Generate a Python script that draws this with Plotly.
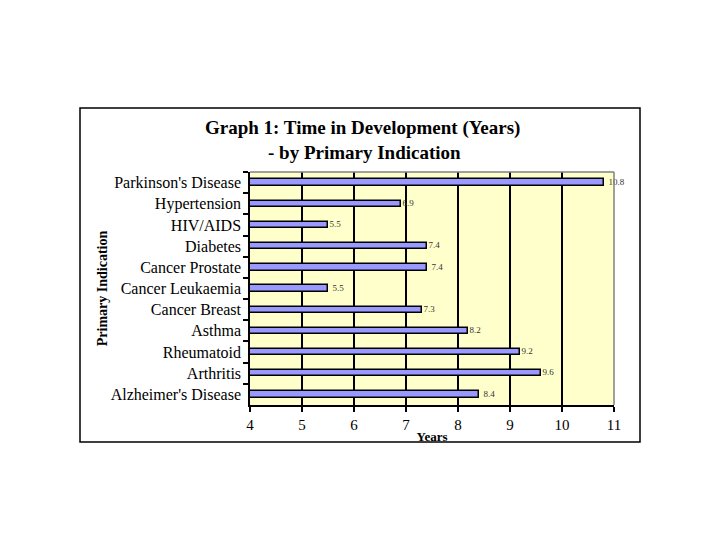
import plotly.graph_objects as go

categories = ["Parkinson's Disease", "Hypertension", "HIV/AIDS", "Diabetes",
              "Cancer Prostate", "Cancer Leukaemia", "Cancer Breast", "Asthma",
              "Rheumatoid", "Arthritis", "Alzheimer's Disease"]
years = [10.8, 6.9, 5.5, 7.4, 7.4, 5.5, 7.3, 8.2, 9.2, 9.6, 8.4]
x_ticks = [4, 5, 6, 7, 8, 9, 10, 11]

serif = "Liberation Serif, Times New Roman, serif"

# page body has an 8px margin; compensate
OFF = 8
FW, FH = 720 - OFF, 540 - OFF

fig = go.Figure()
fig.add_trace(go.Bar(
    y=categories, x=years, orientation="h", width=0.3,
    marker=dict(color="#9999FF", line=dict(color="black", width=1.5)),
    text=[f"\u00a0{v:.1f}" for v in years], textposition="outside", constraintext="none",
    textfont=dict(family=serif, size=9, color="#333333"), cliponaxis=False,
))

L, R, T, B = 250 - OFF, 614 - OFF, 172 - OFF, 405 - OFF
W, H = R - L, B - T

fig.update_layout(
    width=FW, height=FH,
    margin=dict(l=L, r=FW - R, t=T, b=FH - B),
    paper_bgcolor="white", plot_bgcolor="#FFFFCC",
    showlegend=False, bargap=0,
    font=dict(family=serif, color="black"),
    xaxis=dict(range=[4, 11], tickvals=x_ticks, showgrid=True, gridcolor="black",
               gridwidth=1.5, showline=True, linecolor="black", linewidth=1.5,
               ticks="outside", ticklen=5, tickcolor="black", tickwidth=1.5,
               tickfont=dict(size=15), zeroline=False,
               title=dict(text="<b>Years</b>", font=dict(size=13), standoff=0)),
    yaxis=dict(categoryorder="array", categoryarray=categories, autorange="reversed",
               showline=True, linecolor="black", linewidth=1.5, ticks="outside",
               ticklen=5, tickcolor="black", tickwidth=1.5, tickson="boundaries",
               tickfont=dict(size=16), showgrid=False, ticklabelstandoff=4,
               title=dict(text="<b>Primary Indication</b>", font=dict(size=14), standoff=0)),
)

# grey top/right border of the plot area
fig.add_shape(type="line", xref="paper", yref="paper", x0=0, x1=1, y0=1, y1=1,
              line=dict(color="#808080", width=1.5))
fig.add_shape(type="line", xref="paper", yref="paper", x0=1, x1=1, y0=0, y1=1,
              line=dict(color="#808080", width=1.5))
# outer chart border
fig.add_shape(type="rect", xref="paper", yref="paper",
              x0=(80 - OFF - L) / W, x1=(640 - OFF - L) / W,
              y0=(B - (442 - OFF)) / H, y1=(B - (108 - OFF)) / H,
              line=dict(color="black", width=1.5), layer="below")

fig.add_annotation(text="<b>Graph 1: Time in Development (Years)</b>", xref="paper", yref="paper",
                   x=(362 - OFF - L) / W, y=(B - (128 - OFF)) / H, xanchor="center", yanchor="middle",
                   showarrow=False, font=dict(size=19))
fig.add_annotation(text="<b>- by Primary Indication</b>", xref="paper", yref="paper",
                   x=(364 - OFF - L) / W, y=(B - (153 - OFF)) / H, xanchor="center", yanchor="middle",
                   showarrow=False, font=dict(size=19))

fig.write_html("out.html")
